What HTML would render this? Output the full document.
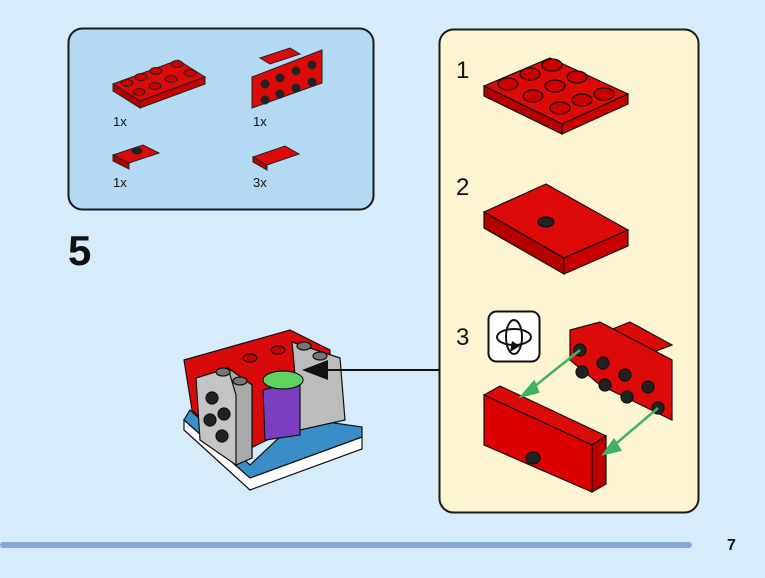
<!DOCTYPE html>
<html><head><meta charset="utf-8"><style>
html,body{margin:0;padding:0;background:#d6ecfb;}
svg{display:block}
text{font-family:"Liberation Sans",sans-serif;fill:#111}
</style></head><body>
<svg width="765" height="578" viewBox="0 0 765 578" xmlns="http://www.w3.org/2000/svg">
<rect width="765" height="578" fill="#d6ecfb"/>
<!-- parts box -->
<rect x="68.5" y="28.5" width="305" height="181" rx="14" fill="#b3d9f3" stroke="#1a1a1a" stroke-width="2"/>
<g stroke="#222" stroke-width="1" fill="#dd0a0a">
 <!-- 2x4 plate -->
 <polygon points="113,84 178,60 205,77 140,101"/>
 <polygon points="113,84 140,101 140,108 113,91" fill="#b50000"/>
 <polygon points="140,101 205,77 205,84 140,108" fill="#c80000"/>
 <g fill="#c00"><ellipse cx="127" cy="83" rx="6" ry="3.5"/><ellipse cx="141" cy="77" rx="6" ry="3.5"/><ellipse cx="156" cy="71" rx="6" ry="3.5"/><ellipse cx="177" cy="64" rx="6" ry="3.5"/><ellipse cx="139" cy="92" rx="6" ry="3.5"/><ellipse cx="155" cy="86" rx="6" ry="3.5"/><ellipse cx="171" cy="79" rx="6" ry="3.5"/><ellipse cx="190" cy="73" rx="6" ry="3.5"/></g>
 <!-- bracket -->
 <polygon points="260,58 290,48 300,54 270,64"/>
 <polygon points="252,77 322,50 322,83 252,108"/>
 <g fill="#222"><circle cx="265" cy="84" r="4"/><circle cx="280" cy="78" r="4"/><circle cx="296" cy="71" r="4"/><circle cx="312" cy="65" r="4"/><circle cx="265" cy="100" r="4"/><circle cx="280" cy="94" r="4"/><circle cx="296" cy="88" r="4"/><circle cx="312" cy="82" r="4"/></g>
 <!-- 1x2 jumper -->
 <polygon points="113,155 143,145 159,153 129,163"/>
 <polygon points="113,155 129,163 129,169 113,161" fill="#b50000"/>
 <ellipse cx="137" cy="151" rx="5" ry="3" fill="#222"/>
 <!-- tile -->
 <polygon points="253,157 285,146 299,154 267,165"/>
 <polygon points="253,157 267,165 267,170 253,162" fill="#b50000"/>
</g>
<g font-size="13"><text x="113" y="126">1x</text><text x="253" y="126">1x</text><text x="113" y="187">1x</text><text x="253" y="187">3x</text></g>
<text x="68" y="265" font-size="42" font-weight="bold">5</text>

<!-- main model -->
<g stroke="#111" stroke-width="1.2">
 <polygon points="184,430 250,490 362,449 362,437 250,478 184,420" fill="#fff"/>
 <polygon points="184,420 250,478 362,437 362,427 300,418 250,465 190,410" fill="#3a8ec8"/>
 <polygon points="184,360 290,330 330,350 330,410 236,455 192,410" fill="#d90a0a"/>
 <polygon points="292,342 340,358 345,420 300,430" fill="#bcbcbc"/>
 <polygon points="263,390 300,380 300,435 265,440" fill="#7a3fc0"/>
 <ellipse cx="283" cy="380" rx="20" ry="9" fill="#5ed35e"/>
 <polygon points="196,378 228,368 252,385 252,458 236,465 200,440" fill="#c4c4c4"/>
 <polygon points="228,368 252,385 252,458 236,465 236,395" fill="#aaa"/>
 <g fill="#222"><circle cx="212" cy="398" r="6"/><circle cx="224" cy="414" r="6"/><circle cx="210" cy="420" r="6"/><circle cx="222" cy="436" r="6"/></g>
 <g fill="#777"><ellipse cx="223" cy="372" rx="7" ry="4"/><ellipse cx="240" cy="381" rx="7" ry="4"/><ellipse cx="304" cy="346" rx="7" ry="4"/><ellipse cx="320" cy="356" rx="7" ry="4"/></g>
 <g fill="#c00"><ellipse cx="250" cy="358" rx="7" ry="4"/><ellipse cx="278" cy="350" rx="7" ry="4"/></g>
</g>
<!-- arrow -->
<line x1="440" y1="370" x2="320" y2="370" stroke="#111" stroke-width="2"/>
<line x1="440" y1="360" x2="440" y2="380" stroke="#111" stroke-width="2"/>
<polygon points="302,370 328,360 328,380" fill="#111"/>

<!-- steps panel -->
<rect x="439.5" y="29.5" width="259" height="483" rx="14" fill="#fdf5d1" stroke="#1a1a1a" stroke-width="2"/>
<g font-size="24"><text x="456" y="78">1</text><text x="456" y="195">2</text><text x="456" y="345">3</text></g>
<g stroke="#111" stroke-width="1.2">
 <!-- step1 -->
 <polygon points="484,86 550,58 628,94 562,124" fill="#dd0a0a"/>
 <polygon points="484,86 562,124 562,134 484,96" fill="#b50000"/>
 <polygon points="562,124 628,94 628,104 562,134" fill="#c80000"/>
 <g fill="#c00"><ellipse cx="508" cy="84" rx="10" ry="6"/><ellipse cx="530" cy="74" rx="10" ry="6"/><ellipse cx="552" cy="65" rx="10" ry="6"/><ellipse cx="533" cy="96" rx="10" ry="6"/><ellipse cx="555" cy="86" rx="10" ry="6"/><ellipse cx="577" cy="77" rx="10" ry="6"/><ellipse cx="560" cy="108" rx="10" ry="6"/><ellipse cx="604" cy="94" rx="10" ry="6"/><ellipse cx="582" cy="100" rx="10" ry="6"/></g>
 <!-- step2 -->
 <polygon points="484,212 546,184 628,230 564,258" fill="#dd0a0a"/>
 <polygon points="484,212 564,258 564,274 484,228" fill="#b50000"/>
 <polygon points="564,258 628,230 628,246 564,274" fill="#c80000"/>
 <ellipse cx="546" cy="222" rx="8" ry="5" fill="#222"/>
 <!-- step3 bracket -->
 <polygon points="590,338 630,322 672,345 632,360" fill="#dd0a0a"/>
 <polygon points="570,330 600,322 672,360 672,420 600,385 570,360" fill="#dd0a0a"/>
 <g fill="#222"><circle cx="580" cy="350" r="6"/><circle cx="603" cy="363" r="6"/><circle cx="625" cy="375" r="6"/><circle cx="648" cy="387" r="6"/><circle cx="582" cy="372" r="6"/><circle cx="605" cy="385" r="6"/><circle cx="627" cy="397" r="6"/><circle cx="658" cy="408" r="6"/></g>
 <!-- step3 front -->
 <polygon points="484,395 500,386 606,436 592,445" fill="#dd0a0a"/>
 <polygon points="484,395 592,445 592,492 484,445" fill="#d00"/>
 <polygon points="592,445 606,436 606,484 592,492" fill="#b00"/>
 <ellipse cx="533" cy="458" rx="7" ry="6" fill="#222"/>
</g>
<g stroke="#3fb35f" stroke-width="2.5" fill="#3fb35f">
 <line x1="580" y1="350" x2="530" y2="390"/><polygon points="522,396 534,382 538,392"/>
 <line x1="658" y1="408" x2="612" y2="447"/><polygon points="604,454 614,440 620,450"/>
</g>
<!-- rotate icon -->
<rect x="488.5" y="311.5" width="51" height="50" rx="8" fill="#fff" stroke="#111" stroke-width="2"/>
<ellipse cx="514" cy="337" rx="17" ry="8" fill="none" stroke="#111" stroke-width="2"/>
<ellipse cx="514" cy="337" rx="8" ry="17" fill="none" stroke="#111" stroke-width="2"/>
<polygon points="520,346 510,352 512,341" fill="#111"/>

<!-- footer -->
<rect x="0" y="542" width="692" height="6" rx="3" fill="#86a8dc"/>
<text x="727" y="550" font-size="16" font-weight="bold">7</text>
</svg>
</body></html>
